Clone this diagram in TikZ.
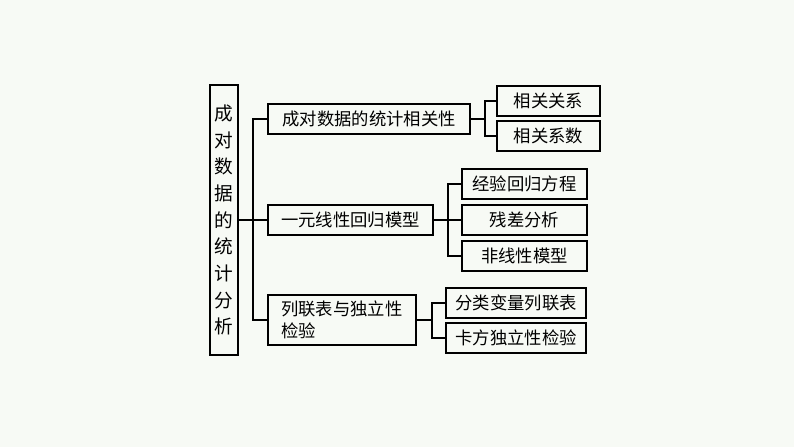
\documentclass[tikz,border=0pt]{standalone}
\usepackage{fontspec}
\setmainfont{Noto Sans CJK SC}
\definecolor{bg}{HTML}{F7FAF5}
\begin{document}
\begin{tikzpicture}[x=0.75pt,y=-0.75pt,
  bx/.style={draw,line width=1.3pt,inner sep=0pt,font=\fontsize{13}{16}\selectfont},
  ln/.style={line width=1.3pt}]
\fill[bg] (0,0) rectangle (794,447);
\useasboundingbox (0,0) rectangle (794,447);
\newcommand{\bxat}[6]{\node[bx,minimum width=#3*0.75pt-1.3pt,minimum height=#4*0.75pt-1.3pt,anchor=north west,#6] (#5) at (#1,#2) {};}
% root
\bxat{209}{84}{30}{272}{root}{}
\node[font=\fontsize{14}{20}\selectfont,align=center] at (root.center) {成\\对\\数\\据\\的\\统\\计\\分\\析};
\bxat{267}{103}{204}{32}{a}{}
\node[font=\fontsize{13}{16}\selectfont] at (a.center) {成对数据的统计相关性};
\bxat{267}{204}{167}{32}{b}{}
\node[font=\fontsize{13}{16}\selectfont] at (b.center) {一元线性回归模型};
\bxat{267}{294}{150}{52}{c}{}
\node[font=\fontsize{13}{17}\selectfont,align=left,anchor=west] at ([xshift=7pt]c.west) {列联表与独立性\\检验};
\bxat{496}{85}{105}{32}{a1}{}
\node[font=\fontsize{13}{16}\selectfont] at (a1.center) {相关关系};
\bxat{496}{120}{105}{32}{a2}{}
\node[font=\fontsize{13}{16}\selectfont] at (a2.center) {相关系数};
\bxat{461}{168}{127}{32}{b1}{}
\node[font=\fontsize{13}{16}\selectfont] at (b1.center) {经验回归方程};
\bxat{461}{204}{127}{32}{b2}{}
\node[font=\fontsize{13}{16}\selectfont] at (b2.center) {残差分析};
\bxat{461}{240}{127}{32}{b3}{}
\node[font=\fontsize{13}{16}\selectfont] at (b3.center) {非线性模型};
\bxat{445}{287}{142}{32}{c1}{}
\node[font=\fontsize{13}{16}\selectfont] at (c1.center) {分类变量列联表};
\bxat{445}{322}{142}{32}{c2}{}
\node[font=\fontsize{13}{16}\selectfont] at (c2.center) {卡方独立性检验};
% connectors
\coordinate (t) at (253,0);
\draw[ln] (root.east) -- (root.east -| t);
\draw[ln] (a.west) -| (t |- c.west) -- (c.west);
\draw[ln] (b.west) -- (b.west -| t);
\coordinate (ta) at (485,0);
\draw[ln] (a.east) -- (a.east -| ta);
\draw[ln] (a1.west) -| (ta |- a2.west) -- (a2.west);
\coordinate (tb) at (448,0);
\draw[ln] (b.east) -- (b2.west);
\draw[ln] (b1.west) -| (tb |- b3.west) -- (b3.west);
\coordinate (tc) at (432,0);
\draw[ln] (c.east) -- (c.east -| tc);
\draw[ln] (c1.west) -| (tc |- c2.west) -- (c2.west);
\end{tikzpicture}
\end{document}
